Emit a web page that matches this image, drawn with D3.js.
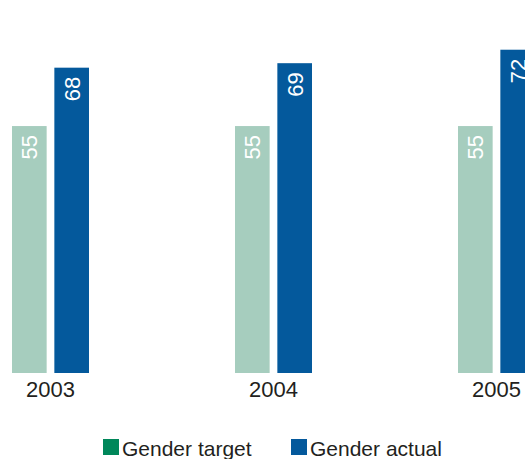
<!DOCTYPE html>
<html><head><meta charset="utf-8">
<script src="https://cdn.jsdelivr.net/npm/d3@7/dist/d3.min.js"></script>
<style>html,body{margin:0;padding:0;background:#fff;overflow:hidden}</style>
</head><body><svg id="c" width="525" height="459"></svg>
<script>
const years = ["2003", "2004", "2005"];
const seriesNames = ["Gender target", "Gender actual"];
const targetValues = [55, 55, 55];
const actualValues = [68, 69, 72];
const barColors = ["#a6cdbe", "#04599c"];
const legendColors = ["#00875a", "#04599c"];

const svg = d3.select("#c");
const font = "'Liberation Sans', Arial, sans-serif";
const baseY = 373;
const y = d3.scaleLinear().domain([0, 80]).range([baseY, baseY - 4.49 * 80]);
const x = d3.scaleBand().domain(years).range([-61, -61 + 223 * 3]).paddingInner(0).paddingOuter(0);
const xs = d3.scaleBand().domain(seriesNames).range([-38.5, 38.5]).paddingInner(7 / 77 * 2).paddingOuter(0);

const data = years.map((yr, i) => ({ year: yr, vals: [targetValues[i], actualValues[i]] }));

const g = svg.selectAll("g.grp").data(data).join("g")
  .attr("transform", d => `translate(${x(d.year) + x.bandwidth() / 2},0)`);

g.selectAll("rect").data(d => d.vals.map((v, k) => ({ v, k }))).join("rect")
  .attr("x", d => xs(seriesNames[d.k]))
  .attr("width", xs.bandwidth())
  .attr("y", d => y(d.v))
  .attr("height", d => baseY - y(d.v))
  .attr("fill", d => barColors[d.k]);

g.selectAll("text.val").data(d => d.vals.map((v, k) => ({ v, k }))).join("text")
  .attr("class", "val")
  .attr("transform", d => `translate(${xs(seriesNames[d.k]) + xs.bandwidth() / 2 + 8},${y(d.v) + 9}) rotate(-90)`)
  .attr("text-anchor", "end")
  .attr("font-family", font).attr("font-size", 22)
  .attr("fill", "#fff")
  .text(d => d.v);

g.append("text")
  .attr("y", 397)
  .attr("text-anchor", "middle")
  .attr("font-family", font).attr("font-size", 22)
  .attr("fill", "#231f20")
  .text(d => d.year);

const legendX = [103, 291];
const lg = svg.selectAll("g.leg").data(seriesNames).join("g")
  .attr("transform", (d, i) => `translate(${legendX[i]},439)`);
lg.append("rect").attr("width", 16).attr("height", 16).attr("fill", (d, i) => legendColors[i]);
lg.append("text").attr("x", 19).attr("y", 17)
  .attr("font-family", font).attr("font-size", 21).attr("fill", "#231f20")
  .text(d => d);
</script></body></html>
